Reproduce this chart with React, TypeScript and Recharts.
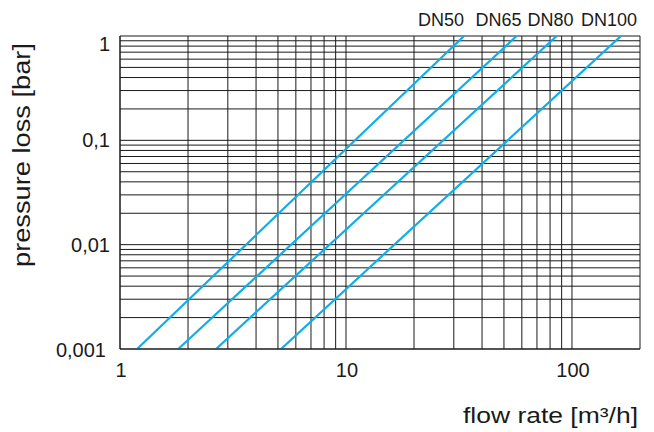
import React from 'react';
import { LineChart, Line, XAxis, YAxis, CartesianGrid } from 'recharts';

// ---- data ----
const xGridTicks = [1, 2, 3, 4, 5, 6, 7, 8, 9, 10, 20, 30, 40, 50, 60, 70, 80, 90, 100, 200];
const yGridTicks = [
  0.001, 0.002, 0.003, 0.004, 0.005, 0.006, 0.007, 0.008, 0.009,
  0.01, 0.02, 0.03, 0.04, 0.05, 0.06, 0.07, 0.08, 0.09,
  0.1, 0.2, 0.3, 0.4, 0.5, 0.6, 0.7, 0.8, 0.9,
  1,
];
const xTickLabels = new Map<number, string>([[1, '1'], [10, '10'], [100, '100']]);
const yTickLabels = new Map<number, string>([[0.001, '0,001'], [0.01, '0,01'], [0.1, '0,1'], [1, '1']]);

const seriesNames = ['DN50', 'DN65', 'DN80', 'DN100'];
const dn50 = [{ q: 1.19, p: 0.001 }, { q: 33.3, p: 1 }];
const dn65 = [{ q: 1.81, p: 0.001 }, { q: 56.9, p: 1 }];
const dn80 = [{ q: 2.66, p: 0.001 }, { q: 85.6, p: 1 }];
const dn100 = [{ q: 5.16, p: 0.001 }, { q: 164.8, p: 1 }];
const seriesData = [dn50, dn65, dn80, dn100];
const seriesLabelX = [441, 498.5, 550.5, 609];

const xTitle = 'flow rate [m³/h]';
const yTitle = 'pressure loss [bar]';

const FONT = '"Liberation Sans", Arial, Helvetica, sans-serif';
const LINE_COLOR = '#10ade9';
const GRID_COLOR = '#1a1a1a';

const XTick = (props: any) => {
  const { x, y, payload } = props;
  const label = xTickLabels.get(payload.value);
  if (!label) return <g />;
  return (
    <text x={x + 1} y={y + 28} textAnchor="middle" fontSize={20} fill="#1a1a1a" fontFamily={FONT}>
      {label}
    </text>
  );
};

const YTick = (props: any) => {
  const { x, y, payload } = props;
  const label = yTickLabels.get(payload.value);
  if (!label) return <g />;
  let dy = 7;
  let dx = -10;
  if (payload.value === 1) dy = 15;
  if (payload.value === 0.001) { dy = 8; dx = -14; }
  return (
    <text x={x + dx} y={y + dy} textAnchor="end" fontSize={20} fill="#1a1a1a" fontFamily={FONT}>
      {label}
    </text>
  );
};

export default function App() {
  return (
    <div style={{ position: 'absolute', left: 0, top: 0, width: 654, height: 432, background: '#fff' }}>
      <LineChart
        width={654}
        height={432}
        margin={{ top: 36, right: 14, bottom: 0, left: 0 }}
      >
        <CartesianGrid stroke={GRID_COLOR} strokeWidth={1} strokeOpacity={1} />
        <XAxis
          type="number"
          dataKey="q"
          scale="log"
          domain={[1, 200]}
          ticks={xGridTicks}
          interval={0}
          allowDataOverflow
          tickSize={0}
          tickMargin={0}
          tickLine={false}
          axisLine={{ stroke: GRID_COLOR }}
          tick={<XTick />}
          height={83}
        />
        <YAxis
          type="number"
          dataKey="p"
          scale="log"
          domain={[0.001, 1]}
          ticks={yGridTicks}
          interval={0}
          allowDataOverflow
          tickSize={0}
          tickMargin={0}
          tickLine={false}
          axisLine={{ stroke: GRID_COLOR }}
          tick={<YTick />}
          width={120}
        />
        {seriesData.map((d, i) => (
          <Line
            key={seriesNames[i]}
            name={seriesNames[i]}
            data={d}
            dataKey="p"
            type="linear"
            stroke={LINE_COLOR}
            strokeWidth={2.2}
            dot={false}
            activeDot={false}
            isAnimationActive={false}
          />
        ))}
      </LineChart>
      <svg
        width={654}
        height={432}
        style={{ position: 'absolute', left: 0, top: 0, pointerEvents: 'none' }}
      >
        {seriesNames.map((n, i) => (
          <text key={n} x={seriesLabelX[i]} y={26} textAnchor="middle" fontSize={18} fill="#1a1a1a" fontFamily={FONT}>
            {n}
          </text>
        ))}
        <text
          x={638}
          y={423}
          textAnchor="end"
          fontSize={22}
          fill="#1a1a1a"
          fontFamily={FONT}
          textLength={175}
          lengthAdjust="spacingAndGlyphs"
        >
          {xTitle}
        </text>
        <text
          transform="translate(30,155) rotate(-90)"
          x={0}
          y={0}
          textAnchor="middle"
          fontSize={23}
          fill="#1a1a1a"
          fontFamily={FONT}
          textLength={224}
          lengthAdjust="spacingAndGlyphs"
        >
          {yTitle}
        </text>
      </svg>
    </div>
  );
}
